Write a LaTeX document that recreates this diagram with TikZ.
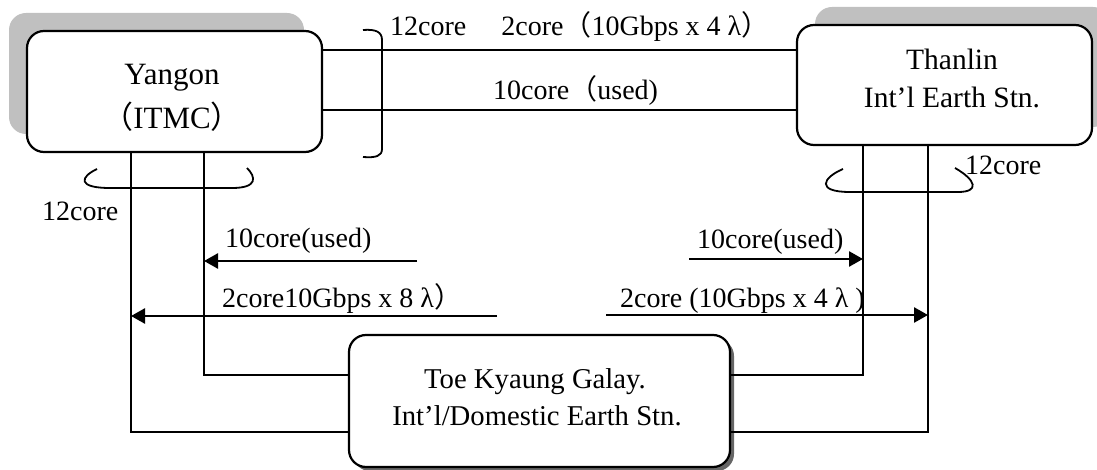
\documentclass[tikz,border=0pt]{standalone}
\usepackage{fontspec}
\setmainfont{Liberation Serif}
\newfontfamily\cjk{Noto Sans CJK JP}
\usetikzlibrary{arrows.meta,shadows}
\newcommand\fw[1]{{\cjk #1}}
\definecolor{shadowlight}{RGB}{192,192,192}

\begin{document}
\begin{tikzpicture}[x=1pt,y=-1pt,
  every node/.style={font=\fontsize{28}{33}\selectfont, inner sep=0pt},
  station/.style={draw, line width=2.2pt, rounded corners=17pt, fill=white},
  fibre/.style={line width=2pt},
  drop/.style={line width=1.6pt},
  brace/.style={line width=1.8pt},
  arr/.style={line width=2.6pt, -{Triangle[length=14pt,width=15pt]}},
  txt/.style={anchor=base west},
  ctxt/.style={anchor=base, font=\fontsize{#1}{33}\selectfont},
  ctxt/.default=29
]
\useasboundingbox (0,0) rectangle (1097,470);

% stations
\node[station, minimum width=295pt, minimum height=121pt,
      drop shadow={shadow xshift=-18pt, shadow yshift=18pt, fill=shadowlight, opacity=1}]
      (Y) at (174.5,91.5) {};
\node[station, minimum width=295pt, minimum height=120pt,
      drop shadow={shadow xshift=18pt, shadow yshift=18pt, fill=shadowlight, opacity=1}]
      (T) at (944.5,85) {};
\node[station, minimum width=381pt, minimum height=132pt,
      drop shadow={shadow xshift=4pt, shadow yshift=-4pt, fill=black, opacity=0.6}]
      (K) at (539.5,401) {};

\node[ctxt=31] (ytxt1) at (172,85) {Yangon};
\node[ctxt=31] (ytxt2) at (172,129) {\fw{（}ITMC\fw{）}};
\node[ctxt=29.5] (ttxt1) at (952,70) {Thanlin};
\node[ctxt=29.5] (ttxt2) at (952,108) {Int’l Earth Stn.};
\node[ctxt=28.7] (ktxt1) at (535,388) {Toe Kyaung Galay.};
\node[ctxt=28.7] (ktxt2) at (537,425) {Int’l/Domestic Earth Stn.};

% reference levels and vertical runs
\coordinate (lvA) at (0,50);
\coordinate (lvB) at (0,110);
\coordinate (lvC) at (0,375);
\coordinate (lvD) at (0,432);
\coordinate (yL) at (131,0);
\coordinate (yR) at (204,0);
\coordinate (tL) at (863,0);
\coordinate (tR) at (928,0);

% Yangon - Thanlin
\draw[fibre] (Y.east |- lvA) -- (T.west |- lvA);
\draw[fibre] (Y.east |- lvB) -- (T.west |- lvB);
\draw[brace] (363,30) .. controls (376,29) and (382,32) .. (382,40) -- (382,149)
             .. controls (382,156) and (376,158) .. (363,157);
\node[txt] (topl) at (390,36) {12core\fw{　} 2core\fw{（}10Gbps x 4 λ\fw{）}};
\node[txt] (usedl) at (493,100) {10core\fw{（}used)};

% Yangon - Toe Kyaung
\draw[drop] (Y.south -| yL) -- (yL |- lvD) -- (K.west |- lvD);
\draw[drop] (Y.south -| yR) -- (yR |- lvC) -- (K.west |- lvC);
\draw[brace] (97,169) .. controls (80,177) and (77,188) .. (110,188) -- (232,188)
             .. controls (258,188) and (256,177) .. (247,168);
\node[txt] (ycore) at (42,221) {12core};

% Thanlin - Toe Kyaung
\draw[drop] (T.south -| tL) -- (tL |- lvC) -- (K.east |- lvC);
\draw[drop] (T.south -| tR) -- (tR |- lvD) -- (K.east |- lvD);
\draw[brace] (843,169) .. controls (822,178) and (816,192) .. (850,192) -- (958,192)
             .. controls (980,192) and (976,180) .. (955,168);
\node[txt] (tcore) at (965,175) {12core};

% capacity arrows
\coordinate (a1) at (417,261);
\coordinate (a2) at (497,316);
\coordinate (a3) at (689,259);
\coordinate (a4) at (606,315);
\draw[arr] (a1) -- (a1 -| yR);
\draw[arr] (a2) -- (a2 -| yL);
\draw[arr] (a3) -- (a3 -| tL);
\draw[arr] (a4) -- (a4 -| tR);
\node[txt] (l1) at (225,248) {10core(used)};
\node[txt] (l2) at (222,307) {2core10Gbps x 8 λ\fw{）}};
\node[txt] (l3) at (697,249) {10core(used)};
\node[txt] (l4) at (620,307) {2core (10Gbps x 4 λ )};
\end{tikzpicture}
\end{document}
